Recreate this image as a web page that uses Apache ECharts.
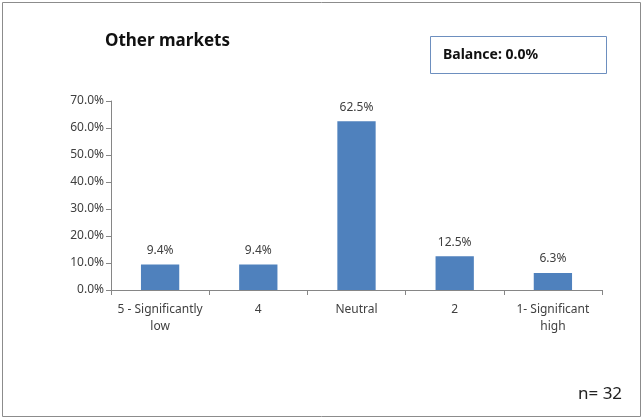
<!DOCTYPE html>
<html>
<head>
<meta charset="utf-8">
<script src="https://cdn.jsdelivr.net/npm/echarts@6/dist/echarts.min.js"></script>
<style>
  html, body { margin: 0; padding: 0; background: #fff; }
  #chart { width: 644px; height: 420px; }
</style>
</head>
<body>
<div id="chart"></div>
<script>
// Rating categories and the share of responses in each
const categories = ['5 - Significantly\nlow', '4', 'Neutral', '2', '1- Significant\nhigh'];
const shares = [9.4, 9.4, 62.5, 12.5, 6.3];
const yTicks = { min: 0, max: 70, step: 10 };
const chartTitle = 'Other markets';
const balanceText = 'Balance: 0.0%';
const sampleText = 'n= 32';

const FONT = '"Noto Sans", "Open Sans", sans-serif';
const TEXT = '#404040';

const chart = echarts.init(document.getElementById('chart'), null, { renderer: 'canvas' });

chart.setOption({
  backgroundColor: '#ffffff',
  animation: false,
  title: {
    text: chartTitle,
    left: 100,
    top: 28,
    textStyle: { fontFamily: FONT, fontSize: 17, fontWeight: 'bold', color: '#111' }
  },
  grid: { left: 111, right: 42, top: 101, bottom: 130, containLabel: false },
  xAxis: {
    type: 'category',
    data: categories,
    axisLine: { lineStyle: { color: '#868686', width: 1 } },
    axisTick: { show: true, length: 5, lineStyle: { color: '#868686' } },
    axisLabel: {
      fontFamily: FONT, fontSize: 12, color: TEXT, margin: 11, lineHeight: 17, interval: 0
    }
  },
  yAxis: {
    type: 'value',
    min: yTicks.min,
    max: yTicks.max,
    interval: yTicks.step,
    axisLine: { show: true, lineStyle: { color: '#868686', width: 1 } },
    axisTick: { show: true, length: 5, lineStyle: { color: '#868686' } },
    splitLine: { show: false },
    axisLabel: {
      fontFamily: FONT, fontSize: 12, color: TEXT, margin: 7,
      formatter: v => v.toFixed(1) + '%'
    }
  },
  series: [{
    type: 'bar',
    data: shares,
    barWidth: '39%',
    itemStyle: { color: '#4F81BD' },
    label: {
      show: true,
      position: 'top',
      distance: 8,
      fontFamily: FONT, fontSize: 12, color: TEXT,
      formatter: p => p.value.toFixed(1) + '%'
    }
  }],
  graphic: [
    {
      type: 'rect',
      shape: { x: 2.5, y: 2.5, width: 638, height: 414 },
      style: { fill: 'none', stroke: '#8c8c8c', lineWidth: 1 },
      silent: true
    },
    {
      type: 'rect',
      shape: { x: 430.5, y: 36.5, width: 176, height: 37 },
      style: { fill: '#fff', stroke: '#6d8fbf', lineWidth: 1 },
      silent: true
    },
    {
      type: 'text',
      left: 443,
      top: 48,
      style: { text: balanceText, fontFamily: FONT, fontSize: 14, fontWeight: 'bold', fill: '#111' },
      silent: true
    },
    {
      type: 'text',
      left: 578,
      top: 386,
      style: { text: sampleText, fontFamily: FONT, fontSize: 17, fill: '#222' },
      silent: true
    }
  ]
});
</script>
</body>
</html>
